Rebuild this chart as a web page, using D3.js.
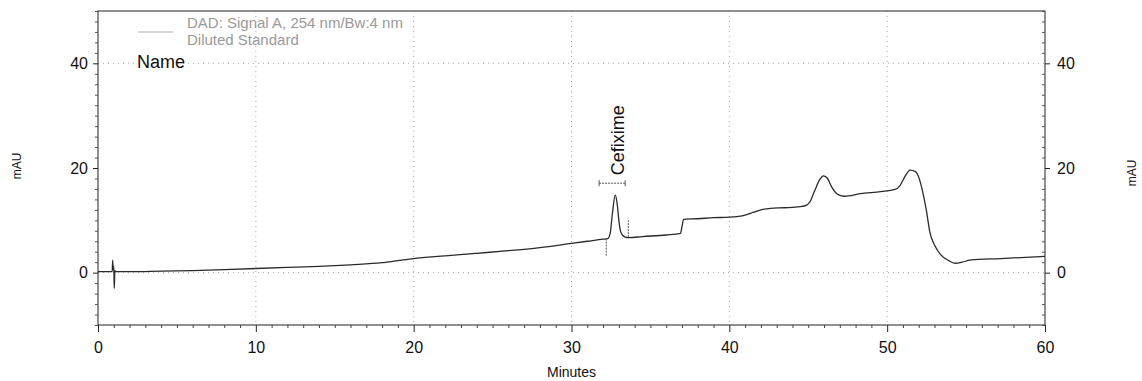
<!DOCTYPE html>
<html>
<head>
<meta charset="utf-8">
<script src="https://cdn.jsdelivr.net/npm/d3@7"></script>
<style>
  html, body { margin: 0; padding: 0; background: #fff; }
  svg { display: block; font-family: "Liberation Sans", Arial, sans-serif; }
</style>
</head>
<body>
<svg id="chart" width="1142" height="381"></svg>
<script>
// Chromatogram trace: retention time (min) and absorbance (mAU)
const timeMin = [0, 0.5, 0.9, 0.93, 0.96, 1.0, 1.03, 1.07, 1.12, 2, 4, 6, 8, 10, 12, 14, 16, 18, 19, 20,
  22, 24, 26, 28, 30, 31, 32, 32.3, 32.45, 32.6, 32.77, 32.9, 33.0, 33.1, 33.25, 33.4, 33.6, 34.5, 36, 36.9,
  37.0, 37.1, 38, 39, 40, 41, 41.5, 42, 42.6, 43.5, 44.5, 44.9, 45.1, 45.4, 45.75, 45.95, 46.2, 46.5, 46.9, 47.3,
  48.3, 49.6, 50.5, 50.8, 51.15, 51.45, 51.8, 51.95, 52.2, 52.5, 52.7, 53.0, 53.4, 53.9, 54.3, 54.75, 55.25, 57.2, 60];
const signalMAU = [0.2, 0.2, 0.2, 2.4, 0.6, 1.2, -3.0, 0.4, 0.2, 0.2, 0.3, 0.4, 0.6, 0.8, 1.0, 1.2, 1.5, 1.9, 2.3, 2.7,
  3.2, 3.7, 4.2, 4.8, 5.6, 6.0, 6.4, 6.5, 7.5, 11.5, 14.8, 13.0, 10.0, 8.0, 7.1, 6.8, 6.7, 6.9, 7.2, 7.5,
  8.8, 10.2, 10.3, 10.5, 10.6, 11.0, 11.5, 12.0, 12.3, 12.4, 12.6, 12.9, 13.5, 15.6, 17.9, 18.5, 18.1, 16.3, 14.9, 14.6,
  15.1, 15.5, 15.9, 16.6, 18.5, 19.6, 19.3, 18.6, 16.1, 11.6, 7.8, 5.3, 3.4, 2.3, 1.8, 2.0, 2.4, 2.7, 3.1];

// Axis ticks
const xTickLabels = [0, 10, 20, 30, 40, 50, 60];
const yTickLabels = [0, 20, 40];
const yGridValues = [0, 40];

// Identified peak: name, apex, integration window and baseline marks
const peakNames = ["Cefixime"];
const peakApexMin = [32.77];
const peakApexMAU = [14.8];
const peakWindowMin = [[31.75, 33.4]];
const peakStartMark = [[32.2, 6.5, 3.2]];   // time, from, to (mAU)
const peakEndMark = [[33.6, 6.8, 10.0]];

const legendLines = ["DAD: Signal A, 254 nm/Bw:4 nm", "Diluted Standard"];

const svg = d3.select("#chart");
const plotL = 98, plotR = 1045, plotT = 11, plotB = 325;

const x = d3.scaleLinear().domain([0, 60]).range([plotL, plotR]);
const y = d3.scaleLinear().domain([-10, 50]).range([plotB, plotT]);

// Dotted grid
const grid = svg.append("g").attr("stroke", "#aaa").attr("stroke-width", 1)
  .attr("stroke-dasharray", "1,4");
grid.selectAll("line.v").data(xTickLabels.filter(d => d > 0 && d < 60)).join("line")
  .attr("x1", d => x(d)).attr("x2", d => x(d)).attr("y1", plotT).attr("y2", plotB);
grid.selectAll("line.h").data(yGridValues).join("line")
  .attr("x1", plotL).attr("x2", plotR).attr("y1", d => y(d)).attr("y2", d => y(d));

// Frame
svg.append("rect").attr("x", plotL).attr("y", plotT).attr("width", plotR - plotL).attr("height", plotB - plotT)
  .attr("fill", "none").attr("stroke", "#222").attr("stroke-width", 1);

// Bottom axis with minute ticks
const xAxis = d3.axisBottom(x).tickValues(xTickLabels).tickSize(7).tickPadding(10).tickFormat(d3.format("d"));
const gx = svg.append("g").attr("transform", `translate(0,${plotB})`).call(xAxis);
gx.select(".domain").remove();
gx.selectAll("text").attr("font-size", 16).attr("fill", "#111").attr("font-family", "Liberation Sans, Arial, sans-serif");
gx.selectAll("line").attr("stroke", "#222");
const xMinor = d3.axisBottom(x).tickValues(d3.range(0, 61, 1).filter(d => d % 10 !== 0)).tickSize(3).tickFormat("");
const gxm = svg.append("g").attr("transform", `translate(0,${plotB})`).call(xMinor);
gxm.select(".domain").remove();
gxm.selectAll("line").attr("stroke", "#444");

// Left axis
const yAxisL = d3.axisLeft(y).tickValues(yTickLabels).tickSize(5).tickPadding(5).tickFormat(d3.format("d"));
const gyl = svg.append("g").attr("transform", `translate(${plotL},0)`).call(yAxisL);
gyl.select(".domain").remove();
gyl.selectAll("text").attr("font-size", 16).attr("fill", "#111").attr("font-family", "Liberation Sans, Arial, sans-serif");
gyl.selectAll("line").attr("stroke", "#222");
const yMinorL = d3.axisLeft(y).tickValues(d3.range(-10, 51, 2).filter(d => d % 20 !== 0)).tickSize(3).tickFormat("");
const gylm = svg.append("g").attr("transform", `translate(${plotL},0)`).call(yMinorL);
gylm.select(".domain").remove();
gylm.selectAll("line").attr("stroke", "#555");

// Right axis
const yAxisR = d3.axisRight(y).tickValues(yTickLabels).tickSize(5).tickPadding(7).tickFormat(d3.format("d"));
const gyr = svg.append("g").attr("transform", `translate(${plotR},0)`).call(yAxisR);
gyr.select(".domain").remove();
gyr.selectAll("text").attr("font-size", 16).attr("fill", "#111").attr("font-family", "Liberation Sans, Arial, sans-serif");
gyr.selectAll("line").attr("stroke", "#222");
const yMinorR = d3.axisLeft(y).tickValues(d3.range(-10, 51, 2).filter(d => d % 20 !== 0)).tickSize(3).tickFormat("");
const gyrm = svg.append("g").attr("transform", `translate(${plotR},0)`).call(yMinorR);
gyrm.select(".domain").remove();
gyrm.selectAll("line").attr("stroke", "#555");

// Axis titles
svg.append("text").attr("x", x(30)).attr("y", 377).attr("text-anchor", "middle")
  .attr("font-size", 14).attr("fill", "#111").text("Minutes");
svg.append("text").attr("transform", "translate(21,166) rotate(-90)").attr("text-anchor", "middle")
  .attr("font-size", 12).attr("fill", "#111").text("mAU");
svg.append("text").attr("transform", "translate(1136,173) rotate(-90)").attr("text-anchor", "middle")
  .attr("font-size", 12).attr("fill", "#111").text("mAU");

// Trace
const pts = timeMin.map((t, i) => [t, signalMAU[i]]);
const line = d3.line().x(d => x(d[0])).y(d => y(d[1])).curve(d3.curveMonotoneX);
svg.append("path").datum(pts).attr("d", line).attr("fill", "none")
  .attr("stroke", "#2a2a2a").attr("stroke-width", 1.3).attr("stroke-linejoin", "round");

// Peak annotations
const ann = svg.append("g").attr("stroke", "#555").attr("stroke-width", 1);
peakWindowMin.forEach(([a, b], i) => {
  const yy = y(peakApexMAU[i]) - 12;
  ann.append("line").attr("x1", x(a)).attr("x2", x(b)).attr("y1", yy).attr("y2", yy).attr("stroke-dasharray", "2,1");
  ann.append("line").attr("x1", x(a)).attr("x2", x(a)).attr("y1", yy - 3).attr("y2", yy + 3);
  ann.append("line").attr("x1", x(b)).attr("x2", x(b)).attr("y1", yy - 3).attr("y2", yy + 3);
  svg.append("text")
    .attr("transform", `translate(${x(peakApexMin[i]) + 9},${yy - 8}) rotate(-90)`)
    .attr("font-size", 18).attr("fill", "#111").attr("text-anchor", "start").text(peakNames[i]);
});
peakStartMark.concat(peakEndMark).forEach(([t, v0, v1]) => {
  ann.append("line").attr("x1", x(t)).attr("x2", x(t)).attr("y1", y(v0)).attr("y2", y(v1))
    .attr("stroke-dasharray", "2,1");
});

// Legend and name header
svg.append("line").attr("x1", 138).attr("x2", 173).attr("y1", 32).attr("y2", 32)
  .attr("stroke", "#aaa").attr("stroke-width", 1);
svg.selectAll("text.legend").data(legendLines).join("text").attr("class", "legend")
  .attr("x", 187).attr("y", (d, i) => 28 + i * 17).attr("font-size", 15).attr("fill", "#9a9a9a").text(d => d);
svg.append("text").attr("x", 137).attr("y", 68).attr("font-size", 18).attr("fill", "#111").text("Name");
</script>
</body>
</html>
